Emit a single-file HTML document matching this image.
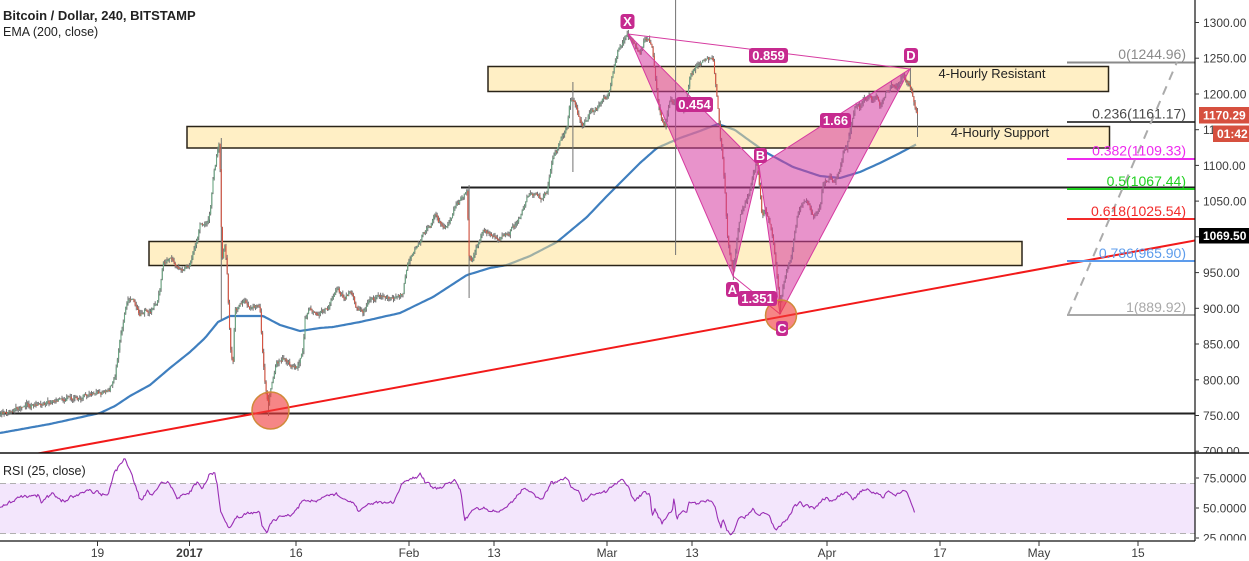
<!DOCTYPE html>
<html><head><meta charset="utf-8"><style>
html,body{margin:0;padding:0;background:#fff;}
svg{display:block;font-family:"Liberation Sans",Arial,sans-serif;}
</style></head><body>
<svg id="c" width="1249" height="561" viewBox="0 0 1249 561" xmlns="http://www.w3.org/2000/svg">
<rect x="0" y="0" width="1249" height="561" fill="#fff"/>
<defs>
<clipPath id="mainclip"><rect x="0" y="0" width="1195" height="453"/></clipPath>
<clipPath id="axclip"><rect x="1196" y="0" width="53" height="452.5"/></clipPath>
<clipPath id="rsiaxclip"><rect x="1196" y="454" width="53" height="86.5"/></clipPath>
</defs>

<g clip-path="url(#mainclip)">
<polyline id="ema" fill="none" stroke="#3f7fbf" stroke-width="2.2" stroke-linejoin="round" points=""/>
<rect x="488" y="66.5" width="620.5" height="25" fill="rgb(255,224,140)" fill-opacity="0.5" stroke="#2a2418" stroke-width="1.5"/>
<rect x="187" y="126.5" width="922.5" height="21.5" fill="rgb(255,224,140)" fill-opacity="0.5" stroke="#2a2418" stroke-width="1.5"/>
<rect x="149" y="241.5" width="873" height="24" fill="rgb(255,224,140)" fill-opacity="0.5" stroke="#2a2418" stroke-width="1.5"/>
<line x1="461" y1="187.5" x2="1195" y2="187.5" stroke="#222" stroke-width="2"/>
<line x1="0" y1="413.5" x2="1195" y2="413.5" stroke="#222" stroke-width="2"/>
<path id="wk" fill="none" stroke="#737373" stroke-width="1"/>
<path id="gb" fill="#6ba583"/>
<path id="rb" fill="#d75442"/>
<polygon points="628,34 733,276 759,166" fill="#d63aa0" fill-opacity="0.55" stroke="#d63aa0" stroke-width="1"/>
<polygon points="759,166 780,314 910,69" fill="#d63aa0" fill-opacity="0.55" stroke="#d63aa0" stroke-width="1"/>
<line x1="628" y1="34" x2="910" y2="69" stroke="#d63aa0" stroke-width="1"/>
<line x1="733" y1="276" x2="780" y2="314" stroke="#d63aa0" stroke-width="1"/>
<line x1="38" y1="453.5" x2="1195" y2="240.5" stroke="#f21a1a" stroke-width="2"/>
<circle cx="270.5" cy="410.5" r="18.5" fill="rgb(240,60,60)" fill-opacity="0.62" stroke="#d08a3a" stroke-width="1.5"/>
<circle cx="781" cy="315.5" r="15.5" fill="rgb(240,60,60)" fill-opacity="0.62" stroke="#d08a3a" stroke-width="1.5"/>
<line x1="1067" y1="62.5" x2="1195" y2="62.5" stroke="#8a8a8a" stroke-width="2"/>
<line x1="1067" y1="122" x2="1195" y2="122" stroke="#4a4a4a" stroke-width="2"/>
<line x1="1067" y1="159" x2="1195" y2="159" stroke="#ee2aee" stroke-width="2"/>
<line x1="1067" y1="189" x2="1195" y2="189" stroke="#1fd01f" stroke-width="2"/>
<line x1="1067" y1="219" x2="1195" y2="219" stroke="#f22a2a" stroke-width="2"/>
<line x1="1067" y1="261" x2="1195" y2="261" stroke="#5d9cec" stroke-width="2"/>
<line x1="1067" y1="315" x2="1195" y2="315" stroke="#a8a8a8" stroke-width="2"/>
<line x1="1068" y1="315" x2="1177" y2="62" stroke="#ababab" stroke-width="2" stroke-dasharray="9,7"/>
<g font-size="14" text-anchor="end">
<text x="1186" y="59" fill="#8a8a8a">0(1244.96)</text>
<text x="1186" y="118.5" fill="#4a4a4a">0.236(1161.17)</text>
<text x="1186" y="155.5" fill="#ee2aee">0.382(1109.33)</text>
<text x="1186" y="186" fill="#1fd01f">0.5(1067.44)</text>
<text x="1186" y="216" fill="#f22a2a">0.618(1025.54)</text>
<text x="1186" y="258" fill="#5d9cec">0.786(965.90)</text>
<text x="1186" y="312" fill="#a8a8a8">1(889.92)</text>
</g>
<text x="992" y="78" font-size="13" fill="#222" text-anchor="middle">4-Hourly Resistant</text>
<text x="1000" y="137" font-size="13" fill="#222" text-anchor="middle">4-Hourly Support</text>
<g fill="#c62a8f">
<rect x="620.5" y="14" width="14" height="15" rx="3"/>
<rect x="904" y="48" width="14" height="15" rx="3"/>
<rect x="754" y="148" width="13" height="15" rx="3"/>
<rect x="726" y="282" width="13" height="15" rx="3"/>
<rect x="776" y="321" width="12" height="15" rx="3"/>
<rect x="749" y="48" width="39" height="15" rx="3"/>
<rect x="676" y="97" width="37" height="15" rx="3"/>
<rect x="820" y="113" width="31" height="15" rx="3"/>
<rect x="738" y="291" width="39" height="15" rx="3"/>
</g>
<g fill="#fff" font-size="13" font-weight="bold" text-anchor="middle">
<text x="627.5" y="26">X</text>
<text x="911" y="60">D</text>
<text x="760.5" y="160">B</text>
<text x="732.5" y="294">A</text>
<text x="782" y="333">C</text>
<text x="768.5" y="60">0.859</text>
<text x="694.5" y="109">0.454</text>
<text x="835.5" y="125">1.66</text>
<text x="757.5" y="303">1.351</text>
</g>
</g>

<text x="3" y="20" font-size="13" font-weight="bold" fill="#222">Bitcoin / Dollar, 240, BITSTAMP</text>
<text x="3" y="36" font-size="12.5" fill="#222">EMA (200, close)</text>

<rect x="0" y="483.5" width="1195" height="50" fill="#f3e6fc"/>
<line x1="0" y1="483.5" x2="1195" y2="483.5" stroke="#b0b0b0" stroke-width="1" stroke-dasharray="6,4"/>
<line x1="0" y1="533.5" x2="1195" y2="533.5" stroke="#b0b0b0" stroke-width="1" stroke-dasharray="6,4"/>
<polyline id="rsi" fill="none" stroke="#9a2fb5" stroke-width="1.1" stroke-linejoin="round" points=""/>
<text x="3" y="475" font-size="12.5" fill="#222">RSI (25, close)</text>

<line x1="0" y1="453" x2="1249" y2="453" stroke="#111" stroke-width="1.5"/>
<line x1="0" y1="541" x2="1195" y2="541" stroke="#111" stroke-width="1.2"/>
<line x1="1195" y1="0" x2="1195" y2="541" stroke="#111" stroke-width="1.2"/>
<g id="pticks" stroke="#333" stroke-width="1"></g>
<g clip-path="url(#axclip)" font-size="12" fill="#3c3c3c" id="plabels"></g>
<g clip-path="url(#rsiaxclip)" font-size="12" fill="#3c3c3c">
<line x1="1195" y1="478" x2="1199" y2="478" stroke="#333"/>
<line x1="1195" y1="508" x2="1199" y2="508" stroke="#333"/>
<line x1="1195" y1="538" x2="1199" y2="538" stroke="#333"/>
<text x="1203" y="482.5">75.0000</text>
<text x="1203" y="512.5">50.0000</text>
<text x="1203" y="542.5">25.0000</text>
</g>
<rect x="1199" y="107" width="50" height="16.5" fill="#d6503f"/>
<text x="1203" y="119.5" font-size="12" font-weight="bold" fill="#fff">1170.29</text>
<rect x="1213" y="125.5" width="36" height="16.5" fill="#d6503f"/>
<text x="1217" y="138" font-size="12" font-weight="bold" fill="#fff">01:42</text>
<rect x="1199" y="228" width="50" height="15.5" fill="#000"/>
<text x="1203" y="240" font-size="12" font-weight="bold" fill="#fff">1069.50</text>

<g stroke="#333" stroke-width="1">
<line x1="97.5" y1="541" x2="97.5" y2="546"/>
<line x1="189.5" y1="541" x2="189.5" y2="546"/>
<line x1="296" y1="541" x2="296" y2="546"/>
<line x1="409" y1="541" x2="409" y2="546"/>
<line x1="494" y1="541" x2="494" y2="546"/>
<line x1="607" y1="541" x2="607" y2="546"/>
<line x1="692" y1="541" x2="692" y2="546"/>
<line x1="827" y1="541" x2="827" y2="546"/>
<line x1="940" y1="541" x2="940" y2="546"/>
<line x1="1039" y1="541" x2="1039" y2="546"/>
<line x1="1138" y1="541" x2="1138" y2="546"/>
</g>
<g font-size="12" fill="#3c3c3c" text-anchor="middle">
<text x="97.5" y="557">19</text>
<text x="189.5" y="557" font-weight="bold">2017</text>
<text x="296" y="557">16</text>
<text x="409" y="557">Feb</text>
<text x="494" y="557">13</text>
<text x="607" y="557">Mar</text>
<text x="692" y="557">13</text>
<text x="827" y="557">Apr</text>
<text x="940" y="557">17</text>
<text x="1039" y="557">May</text>
<text x="1138" y="557">15</text>
</g>
</svg>
<script>
(function(){
var NS="http://www.w3.org/2000/svg";
var s=987654321;
function r(){s^=s<<13;s^=s>>>17;s^=s<<5;return ((s>>>0)%100000)/100000;}
function g(){return (r()+r()+r()-1.5)*1.3;}
function ip(P,x){for(var i=1;i<P.length;i++){if(x<=P[i][0]){var a=P[i-1],b=P[i];var t=(x-a[0])/(b[0]-a[0]);return a[1]+t*(b[1]-a[1]);}}return P[P.length-1][1];}
var P=[[0,415],[20,408],[40,403],[60,400],[80,397],[100,393],[110,388],[115,375],[120,340],[125,310],[128,302],[133,300],[140,315],[145,310],[150,310],[157,303],[160,290],[163,263],[170,257],[177,270],[183,270],[190,263],[193,253],[197,240],[200,223],[207,223],[210,210],[213,180],[217,153],[219,142],[220,165],[222,262],[225,243],[227,270],[229,320],[231,355],[233,365],[235,310],[240,305],[245,300],[250,310],[255,305],[260,310],[263,357],[265,385],[268,405],[272,385],[277,363],[283,357],[290,365],[297,368],[303,350],[305,320],[310,307],[317,313],[323,310],[330,303],[337,290],[343,297],[350,293],[357,307],[363,313],[370,300],[383,297],[393,298],[403,293],[407,267],[413,253],[420,243],[423,230],[430,227],[435,213],[440,223],[445,230],[450,220],[457,203],[463,193],[467,190],[469,255],[472,262],[477,247],[483,230],[490,233],[497,240],[503,237],[510,232],[517,220],[523,210],[530,193],[537,197],[543,200],[547,193],[550,173],[553,157],[557,150],[560,140],[567,127],[570,100],[573,97],[577,110],[583,127],[590,113],[597,107],[603,97],[607,100],[610,87],[613,72],[617,55],[620,45],[625,36],[628,34],[633,43],[637,50],[640,55],[645,40],[648,38],[652,47],[655,73],[658,100],[662,120],[665,127],[670,100],[673,107],[676,100],[680,107],[685,110],[690,77],[695,67],[700,63],[705,60],[710,57],[713,57],[715,77],[718,110],[720,133],[723,160],[725,190],[727,233],[730,257],[733,273],[737,240],[740,217],[743,207],[747,200],[750,190],[753,173],[757,162],[760,190],[762,217],[765,210],[768,217],[772,233],[775,257],[778,287],[780,307],[783,287],[787,267],[790,260],[793,243],[797,217],[800,207],[803,203],[807,200],[810,207],[813,217],[817,213],[820,210],[823,183],[827,183],[830,177],[833,183],[837,177],[840,167],[843,153],[847,147],[850,130],[853,113],[857,103],[860,107],[863,100],[867,97],[870,97],[873,100],[877,97],[880,107],[883,97],[887,90],[890,87],[893,83],[897,87],[900,80],[903,73],[907,80],[910,83],[913,97],[917,115]];
var S=[[676,0,255],[573,82,172],[469,185,298],[221,138,320],[268,395,416],[733,260,280],[780,295,314],[917,108,137],[628,30,40],[910,68,90]];
var W="",G="",R="",prev=ip(P,0),n=0;
for(var x=0.6;x<=917.5;x+=1.18){
 n=0.55*n+g()*1.7;
 var c=ip(P,x)+n;var o=prev;
 var hi=Math.min(o,c)-r()*3.6,lo=Math.max(o,c)+r()*3.6;
 for(var k=0;k<S.length;k++){if(Math.abs(x-S[k][0])<0.6){hi=Math.min(hi,S[k][1]);lo=Math.max(lo,S[k][2]);}}
 W+="M"+x.toFixed(1)+" "+hi.toFixed(1)+"V"+lo.toFixed(1);
 var top=Math.min(o,c),h=Math.max(Math.abs(c-o),0.9);
 var b="M"+(x-0.55).toFixed(2)+" "+top.toFixed(1)+"h1.1v"+h.toFixed(1)+"h-1.1z";
 if(c<o)G+=b;else R+=b;
 prev=c;
}
document.getElementById("wk").setAttribute("d",W);
document.getElementById("gb").setAttribute("d",G);
document.getElementById("rb").setAttribute("d",R);
var E=[[0,433],[50,424],[100,413],[115,406],[130,396],[150,385],[170,368],[190,352],[205,338],[218,322],[230,316],[263,316],[280,325],[300,331],[320,328],[333,327],[360,322],[400,313],[433,297],[467,275],[490,268],[507,265],[530,256],[557,242],[587,217],[605,198],[623,180],[640,163],[657,148],[680,138],[700,131],[718,124],[735,130],[750,141],[767,153],[793,167],[820,176],[840,178],[860,172],[880,163],[900,153],[917,144]];
var ep=[];for(var x2=0;x2<=917;x2+=2){ep.push(x2+","+ip(E,x2).toFixed(1));}
document.getElementById("ema").setAttribute("points",ep.join(" "));
var Z=[[0,205],[30,185],[45,170],[70,170],[100,165],[105,190],[130,160],[150,180],[165,185],[200,160],[230,150],[260,165],[275,160],[290,100],[305,75],[318,55],[325,80],[335,100],[355,180],[375,155],[385,165],[410,130],[430,125],[450,175],[480,160],[500,125],[515,145],[530,110],[545,100],[552,130],[560,210],[570,240],[585,265],[600,230],[620,225],[660,220],[665,260],[678,278],[690,245],[710,230],[740,225],[770,180],[800,185],[830,165],[855,160],[870,180],[900,190],[910,215],[940,185],[1000,190],[1020,130],[1050,115],[1068,100],[1080,125],[1110,150],[1140,130],[1155,120],[1170,150],[1180,245],[1200,210],[1230,205],[1260,215],[1290,200],[1330,145],[1360,165],[1375,180],[1400,130],[1440,110],[1450,145],[1470,150],[1480,185],[1500,165],[1530,160]];
var RP=[];for(var i=0;i<Z.length;i++){RP.push([Z[i][0]/2.54,440+Z[i][1]/3]);}
var Z2=[[607,492],[610,488],[617,483],[622,479],[625,483],[628,487],[632,498],[635,500],[638,497],[645,493],[650,495],[652,517],[655,508],[658,517],[662,523],[667,515],[672,512],[674,498],[677,520],[680,512],[687,512],[689,503],[697,503],[703,502],[712,500],[715,507],[718,518],[721,528],[723,518],[727,530],[731,535],[735,527],[738,520],[745,517],[753,508],[758,515],[763,513],[770,518],[775,530],[780,527],[785,520],[790,515],[793,507],[800,502],[803,508],[808,505],[815,508],[822,500],[828,498],[833,502],[840,495],[847,492],[853,500],[860,493],[867,489],[872,493],[878,492],[883,498],[887,491],[893,495],[900,493],[903,492],[908,495],[912,505],[915,513]];
RP=RP.concat(Z2);
var rp=[],m=0;
for(var x3=0;x3<=915;x3+=1.18){m=0.4*m+g()*1.3;var yy=ip(RP,x3)+m;if(yy>537)yy=537;rp.push(x3.toFixed(1)+","+yy.toFixed(1));}
document.getElementById("rsi").setAttribute("points",rp.join(" "));
var pl=document.getElementById("plabels"),pt=document.getElementById("pticks");
for(var p=1300;p>=700;p-=50){
 var y=22.5+(1300-p)*0.7145;
 var t=document.createElementNS(NS,"text");t.setAttribute("x","1203");t.setAttribute("y",(y+4.5).toFixed(1));t.textContent=p.toFixed(2);pl.appendChild(t);
 if(y<452){var l=document.createElementNS(NS,"line");l.setAttribute("x1","1195");l.setAttribute("x2","1199");l.setAttribute("y1",y.toFixed(1));l.setAttribute("y2",y.toFixed(1));pt.appendChild(l);}
}
})();
</script>
</body></html>
